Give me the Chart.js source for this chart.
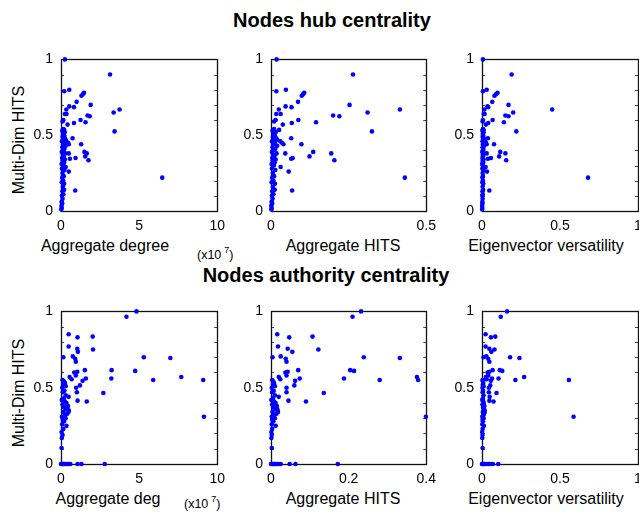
<!DOCTYPE html>
<html>
<head>
<meta charset="utf-8">
<script src="https://cdn.jsdelivr.net/npm/chart.js@4/dist/chart.umd.min.js"></script>
<style>
  body { margin:0; width:639px; height:512px; overflow:hidden; background:#fff; position:relative;
         font-family:"Liberation Sans", Arial, Helvetica, sans-serif; color:#000; }
  .plot { position:absolute; }
  .lbl { position:absolute; white-space:nowrap; line-height:1; }
  .main { font-size:20px; font-weight:bold; width:400px; text-align:center; }
  .xt { font-size:16px; width:240px; text-align:center; }
  .yt { font-size:16px; width:200px; height:20px; line-height:20px; text-align:center; transform:rotate(-90deg); }
  .exp { font-size:12.5px; }
  .exp span { font-size:9px; position:relative; top:-6px; margin-left:3px; }
</style>
</head>
<body>

<div class="lbl main" style="left:132px; top:10px;">Nodes hub centrality</div>
<div class="lbl main" style="left:126px; top:265px;">Nodes authority centrality</div>

<div class="lbl yt" style="left:-81px; top:130px;">Multi-Dim HITS</div>
<div class="lbl yt" style="left:-81px; top:383px;">Multi-Dim HITS</div>

<div class="lbl xt" style="left:-15px; top:238px;">Aggregate degree</div>
<div class="lbl xt" style="left:223px; top:238px;">Aggregate HITS</div>
<div class="lbl xt" style="left:426px; top:238px;">Eigenvector versatility</div>
<div class="lbl xt" style="left:-12px; top:491px;">Aggregate deg</div>
<div class="lbl xt" style="left:223px; top:491px;">Aggregate HITS</div>
<div class="lbl xt" style="left:426px; top:491px;">Eigenvector versatility</div>

<div class="lbl exp" style="left:197px; top:249px;">(x10<span>7</span>)</div>
<div class="lbl exp" style="left:184px; top:498px;">(x10<span>7</span>)</div>

<script>
// 軸目盛り
const yTicks = [0, 0.5, 1];
const yMinor = [0.1, 0.2, 0.3, 0.4, 0.6, 0.7, 0.8, 0.9];
const degTicks = [0, 5, 10];
const hubHitsTicks = [0, 0.5];
const eigTicks = [0, 0.5, 1];
const authHitsTicks = [0, 0.2, 0.4];

// hub centrality (x: aggregate degree in 1e7, aggregate HITS, eigenvector versatility)
const hubY = [1.00, 0.90, 0.80, 0.79, 0.78, 0.77, 0.76, 0.72, 0.70, 0.69, 0.685, 0.67, 0.67, 0.65, 0.64, 0.64,
  0.63, 0.625, 0.60, 0.585, 0.58, 0.57, 0.525, 0.535, 0.48, 0.44, 0.38, 0.39, 0.38, 0.36, 0.335, 0.35, 0.345,
  0.29, 0.26, 0.22, 0.135, 0.46, 0.45, 0.44, 0.47,
  0.01, 0.02, 0.035, 0.05, 0.06, 0.08, 0.10, 0.11, 0.13, 0.14, 0.16, 0.18, 0.19, 0.20, 0.22, 0.23, 0.25, 0.27,
  0.28, 0.30, 0.31, 0.32, 0.33, 0.34, 0.35, 0.36, 0.37, 0.38, 0.39, 0.40, 0.41, 0.42, 0.43, 0.44, 0.45, 0.46,
  0.47, 0.48, 0.49, 0.50, 0.51, 0.52, 0.53, 0.54, 0.59, 0.60];
const hubDeg = [0.25, 3.14, 0.53, 0.21, 1.47, 1.40, 1.31, 1.00, 1.90, 0.53, 0.83, 0.34, 3.75, 3.37, 0.25, 0.35,
  1.70, 1.84, 1.25, 1.57, 0.83, 0.42, 3.43, 0.20, 0.74, 1.29, 0.50, 1.50, 1.65, 1.55, 1.76, 0.93, 0.57,
  0.30, 0.50, 6.48, 0.91, 0.35, 0.45, 0.50, 0.28,
  0.02, 0.05, 0.03, 0.08, 0.04, 0.10, 0.06, 0.15, 0.09, 0.20, 0.12, 0.20, 0.05, 0.14, 0.08, 0.18, 0.10, 0.22,
  0.06, 0.16, 0.04, 0.20, 0.10, 0.25, 0.07, 0.18, 0.12, 0.28, 0.05, 0.15, 0.22, 0.09, 0.30, 0.14, 0.20, 0.06,
  0.17, 0.26, 0.10, 0.20, 0.13, 0.24, 0.08, 0.15, 0.10, 0.15];
const hubHits = [0.018, 0.264, 0.048, 0.017, 0.107, 0.103, 0.099, 0.087, 0.253, 0.047, 0.066, 0.025, 0.415, 0.311, 0.017, 0.031,
  0.200, 0.220, 0.088, 0.145, 0.067, 0.038, 0.325, 0.026, 0.065, 0.098, 0.046, 0.136, 0.194, 0.124, 0.204, 0.070, 0.065,
  0.031, 0.057, 0.431, 0.068, 0.030, 0.035, 0.040, 0.020,
  0.001, 0.002, 0.001, 0.004, 0.002, 0.005, 0.003, 0.008, 0.004, 0.012, 0.006, 0.013, 0.002, 0.008, 0.004, 0.010, 0.006, 0.014,
  0.003, 0.009, 0.002, 0.012, 0.005, 0.015, 0.004, 0.011, 0.007, 0.018, 0.003, 0.009, 0.014, 0.005, 0.020, 0.008, 0.013, 0.003,
  0.010, 0.017, 0.006, 0.012, 0.008, 0.015, 0.005, 0.010, 0.010, 0.015];
const hubEig = [0.006, 0.190, 0.030, 0.006, 0.100, 0.090, 0.080, 0.066, 0.170, 0.035, 0.040, 0.015, 0.450, 0.200, 0.011, 0.017,
  0.150, 0.170, 0.068, 0.140, 0.040, 0.025, 0.220, 0.010, 0.038, 0.077, 0.030, 0.117, 0.150, 0.110, 0.155, 0.057, 0.038,
  0.023, 0.032, 0.680, 0.047, 0.020, 0.025, 0.030, 0.015,
  0.001, 0.002, 0.001, 0.003, 0.002, 0.004, 0.002, 0.005, 0.003, 0.007, 0.004, 0.008, 0.002, 0.006, 0.003, 0.006, 0.004, 0.009,
  0.002, 0.006, 0.001, 0.008, 0.004, 0.010, 0.003, 0.007, 0.005, 0.012, 0.002, 0.006, 0.009, 0.004, 0.013, 0.006, 0.009, 0.003,
  0.007, 0.011, 0.004, 0.008, 0.005, 0.010, 0.003, 0.006, 0.004, 0.006];

// authority centrality
const authY = [1.00, 0.965, 0.85, 0.83, 0.835, 0.77, 0.755, 0.735, 0.75, 0.70, 0.705, 0.69, 0.67, 0.70, 0.695,
  0.60, 0.605, 0.58, 0.615, 0.615, 0.61, 0.57, 0.555, 0.545, 0.56, 0.56, 0.55, 0.57, 0.55, 0.50, 0.515, 0.47,
  0.44, 0.465, 0.415, 0.41, 0.31, 0.105,
  0, 0, 0, 0, 0, 0, 0, 0, 0, 0, 0, 0,
  0.17, 0.19, 0.21, 0.23, 0.25, 0.26, 0.28, 0.29, 0.30, 0.31, 0.32, 0.33, 0.34, 0.35, 0.36, 0.37, 0.38, 0.39,
  0.40, 0.41, 0.42, 0.43, 0.45, 0.47, 0.48, 0.50, 0.51, 0.52, 0.53, 0.55, 0.54, 0.36, 0.34, 0.38];
const authDeg = [4.83, 4.19, 0.49, 1.06, 2.03, 0.49, 1.04, 1.08, 2.05, 0.15, 0.76, 0.91, 0.95, 5.30, 7.00,
  0.85, 1.04, 0.95, 1.53, 3.24, 4.75, 0.55, 0.68, 1.38, 1.59, 3.22, 5.90, 7.70, 9.10, 0.97, 1.21, 1.02,
  0.49, 2.71, 1.06, 1.65, 9.15, 0.04,
  0.00, 0.05, 0.10, 0.15, 0.20, 0.30, 0.40, 0.50, 0.60, 1.06, 1.31, 2.80,
  0.05, 0.10, 0.04, 0.15, 0.35, 0.08, 0.20, 0.12, 0.30, 0.06, 0.25, 0.40, 0.15, 0.50, 0.30, 0.20, 0.45, 0.10,
  0.35, 0.25, 0.05, 0.18, 0.30, 0.12, 0.22, 0.08, 0.30, 0.15, 0.25, 0.10, 0.20, 0.42, 0.48, 0.38];
const authHits = [0.232, 0.210, 0.016, 0.047, 0.107, 0.018, 0.043, 0.055, 0.122, 0.004, 0.025, 0.038, 0.040, 0.239, 0.332,
  0.037, 0.043, 0.040, 0.070, 0.204, 0.214, 0.020, 0.024, 0.062, 0.074, 0.188, 0.280, 0.376, 0.379, 0.040, 0.060, 0.040,
  0.020, 0.136, 0.045, 0.090, 0.399, 0.002,
  0.000, 0.003, 0.005, 0.008, 0.010, 0.012, 0.015, 0.020, 0.025, 0.048, 0.063, 0.172,
  0.001, 0.002, 0.001, 0.003, 0.012, 0.002, 0.006, 0.003, 0.010, 0.002, 0.008, 0.014, 0.004, 0.017, 0.010, 0.006, 0.015, 0.003,
  0.012, 0.008, 0.001, 0.005, 0.010, 0.003, 0.007, 0.002, 0.010, 0.005, 0.008, 0.003, 0.006, 0.016, 0.018, 0.013];
const authEig = [0.160, 0.120, 0.023, 0.057, 0.085, 0.023, 0.047, 0.060, 0.080, 0.010, 0.028, 0.040, 0.047, 0.180, 0.240,
  0.036, 0.047, 0.040, 0.068, 0.114, 0.130, 0.025, 0.030, 0.057, 0.064, 0.106, 0.214, 0.270, 0.557, 0.044, 0.053, 0.044,
  0.049, 0.093, 0.047, 0.074, 0.587, 0.004,
  0.000, 0.003, 0.005, 0.010, 0.015, 0.020, 0.030, 0.040, 0.050, 0.060, 0.070, 0.104,
  0.002, 0.003, 0.001, 0.004, 0.012, 0.002, 0.006, 0.004, 0.010, 0.002, 0.008, 0.013, 0.005, 0.016, 0.010, 0.007, 0.015, 0.003,
  0.011, 0.008, 0.002, 0.006, 0.010, 0.004, 0.007, 0.003, 0.010, 0.005, 0.008, 0.003, 0.006, 0.014, 0.017, 0.012];

// 描画領域 [left, top, right, bottom]
const plots = [
  { xs: hubDeg,   ys: hubY,  xMax: 10,  xTicks: degTicks,      box: [61, 55, 218, 211] },
  { xs: hubHits,  ys: hubY,  xMax: 0.5, xTicks: hubHitsTicks,  box: [271, 55, 429, 211] },
  { xs: hubEig,   ys: hubY,  xMax: 1,   xTicks: eigTicks,      box: [482, 55, 638, 211] },
  { xs: authDeg,  ys: authY, xMax: 10,  xTicks: degTicks,      box: [61, 307, 218, 464] },
  { xs: authHits, ys: authY, xMax: 0.4, xTicks: authHitsTicks, box: [271, 307, 429, 464] },
  { xs: authEig,  ys: authY, xMax: 1,   xTicks: eigTicks,      box: [482, 307, 638, 464] }
];

const Y_AXIS_W = 60, X_AXIS_H = 30, PAD_TOP = 12, PAD_RIGHT = 14;
const tickFont = { family: '"Liberation Sans", Arial, Helvetica, sans-serif', size: 14 };
const fmt = v => String(Math.round(v * 100) / 100);

// 枠と内向きの目盛り
const frameTicks = {
  id: 'frameTicks',
  beforeDatasetsDraw(chart) {
    const { ctx, chartArea: a, scales: { y } } = chart;
    ctx.save();
    ctx.strokeStyle = '#444';
    ctx.lineWidth = 1;
    ctx.beginPath();
    yMinor.forEach(v => {
      const py = Math.round(y.getPixelForValue(v)) + 0.5;
      ctx.moveTo(a.left, py); ctx.lineTo(a.left + 3, py);
      ctx.moveTo(a.right, py); ctx.lineTo(a.right - 3, py);
    });
    ctx.stroke();
    ctx.strokeStyle = '#111';
    ctx.lineWidth = 1.3;
    ctx.strokeRect(Math.round(a.left) + 0.5, Math.round(a.top) + 0.5,
      Math.round(a.right - a.left), Math.round(a.bottom - a.top));
    ctx.restore();
  }
};

plots.forEach(p => {
  const [l, t, r, b] = p.box;
  const canvas = document.createElement('canvas');
  canvas.className = 'plot';
  canvas.width = (r - l) + Y_AXIS_W + PAD_RIGHT;
  canvas.height = (b - t) + PAD_TOP + X_AXIS_H;
  canvas.style.left = (l - Y_AXIS_W) + 'px';
  canvas.style.top = (t - PAD_TOP) + 'px';
  document.body.appendChild(canvas);

  new Chart(canvas, {
    type: 'scatter',
    data: {
      datasets: [{
        data: p.ys.map((v, i) => ({ x: p.xs[i], y: v })),
        backgroundColor: '#0000ff',
        borderWidth: 0,
        pointRadius: 2.3,
        clip: false
      }]
    },
    options: {
      responsive: false,
      animation: false,
      layout: { padding: { top: PAD_TOP, right: PAD_RIGHT, left: 0, bottom: 0 } },
      plugins: { legend: { display: false }, tooltip: { enabled: false } },
      scales: {
        x: {
          type: 'linear', min: 0, max: p.xMax,
          afterBuildTicks: s => { s.ticks = p.xTicks.map(v => ({ value: v })); },
          afterFit: s => { s.height = X_AXIS_H; },
          ticks: { font: tickFont, color: '#000', padding: 7, maxRotation: 0, autoSkip: false, callback: fmt },
          grid: { display: false, drawTicks: false },
          border: { display: false }
        },
        y: {
          type: 'linear', min: 0, max: 1,
          afterBuildTicks: s => { s.ticks = yTicks.map(v => ({ value: v })); },
          afterFit: s => { s.width = Y_AXIS_W; },
          ticks: { font: tickFont, color: '#000', padding: 8, autoSkip: false, callback: fmt },
          grid: { display: false, drawTicks: false },
          border: { display: false }
        }
      }
    },
    plugins: [frameTicks]
  });
});
</script>
</body>
</html>
